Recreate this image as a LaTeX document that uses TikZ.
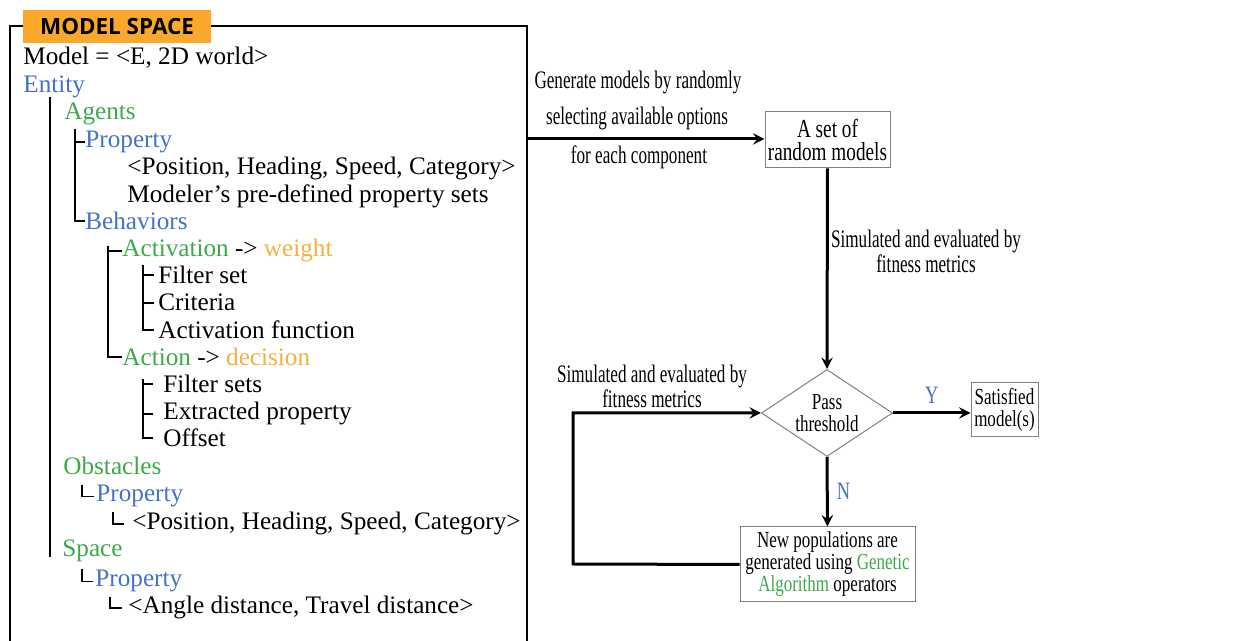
\documentclass[tikz,border=0pt]{standalone}
\usepackage{fontspec}
\usepackage{tikz}
\usepackage{xcolor}
\usetikzlibrary{shapes.geometric}
\usetikzlibrary{positioning}
\setmainfont{Liberation Serif}
\newfontfamily\condfont[FakeStretch=0.74]{Liberation Serif}
\newfontfamily\narrowfont[FakeStretch=0.68]{Liberation Serif}
\newfontfamily\headfont{Open Sans}
\definecolor{entblue}{HTML}{4472C4}
\definecolor{agtgreen}{HTML}{3DAA4A}
\definecolor{wtorange}{HTML}{F5B041}
\definecolor{headorange}{HTML}{F9A82B}
\newcommand{\treefont}{\fontsize{12.6}{15}\selectfont}
\tikzstyle{treetext} = [anchor=base west, inner sep=0pt, font=\treefont]
\tikzstyle{treeline} = [line width=1pt]
\tikzstyle{frameline} = [line width=1pt]
\tikzstyle{process} = [rectangle, draw=gray, line width=0.5pt, text centered, align=center, inner sep=1pt, font=\condfont\fontsize{11.5}{11}\selectfont]
\tikzstyle{decision} = [diamond, draw=gray, line width=0.5pt, aspect=1.5, minimum width=65.5pt, minimum height=43.5pt, inner sep=0pt, align=center, font=\condfont\fontsize{11.5}{11}\selectfont]
\tikzstyle{lbl} = [align=center, inner sep=0pt, font=\narrowfont\fontsize{12.6}{11}\selectfont]
\tikzstyle{yn} = [inner sep=1pt, text=entblue, font=\condfont\fontsize{12.5}{12}\selectfont]
\tikzstyle{arrow} = [line width=1.5pt,->,>=stealth]

\begin{document}
\begin{tikzpicture}[x=0.5pt, y=-0.5pt]
        \useasboundingbox (0,0) rectangle (1255,641);

        % model space panel
        \node (title) [fill=headorange, minimum width=94pt, minimum height=16.5pt, inner sep=0pt, font=\headfont\bfseries\fontsize{11.2}{12}\selectfont] at (117,26.5) {MODEL SPACE};
        \coordinate (fbl) at (10,641);
        \coordinate (fbr) at (527,641);
        \draw [frameline] (title.west) -| (fbl);
        \draw [frameline] (title.east) -| (fbr);

        \node (model) [treetext] at (23,65) {Model = <E, 2D world>};
        \node (entity) [treetext, text=entblue] at (23,92.5) {Entity};
        \node (agents) [treetext, text=agtgreen] at (64,120) {Agents};
        \node (aprop) [treetext, text=entblue] at (85,147.5) {Property};
        \node (apos) [treetext] at (127,175) {<Position, Heading, Speed, Category>};
        \node (amod) [treetext] at (127,202.5) {Modeler’s pre-defined property sets};
        \node (behav) [treetext, text=entblue] at (85,230) {Behaviors};
        \node (activ) [treetext] at (122,257) {\textcolor{agtgreen}{Activation} -> \textcolor{wtorange}{weight}};
        \node (filt) [treetext] at (158,284) {Filter set};
        \node (crit) [treetext] at (158,311) {Criteria};
        \node (actf) [treetext] at (158,339) {Activation function};
        \node (action) [treetext] at (122,366) {\textcolor{agtgreen}{Action} -> \textcolor{wtorange}{decision}};
        \node (filts) [treetext] at (163,393) {Filter sets};
        \node (extr) [treetext] at (163,420) {Extracted property};
        \node (offs) [treetext] at (163,447) {Offset};
        \node (obst) [treetext, text=agtgreen] at (63,475) {Obstacles};
        \node (oprop) [treetext, text=entblue] at (96,502) {Property};
        \node (opos) [treetext] at (132,530) {<Position, Heading, Speed, Category>};
        \node (space) [treetext, text=agtgreen] at (62,557) {Space};
        \node (sprop) [treetext, text=entblue] at (95,587) {Property};
        \node (sang) [treetext] at (128,614) {<Angle distance, Travel distance>};

        % tree branches
        \coordinate (entbar) at (50,97);
        \coordinate (agbar) at (75,129);
        \coordinate (bhbar) at (108,246);
        \coordinate (acbar) at (143,265);
        \coordinate (dcbar) at (143,379);
        \coordinate (obl) at (82,485);
        \coordinate (opl) at (113,512);
        \coordinate (spl) at (82,569);
        \coordinate (sal) at (110,597);
        \draw [treeline] (entbar) -- (entbar |- space.base);
        \draw [treeline] (agbar) |- (aprop.west);
        \draw [treeline] (agbar) |- (behav.west);
        \draw [treeline] (bhbar) |- (activ.west);
        \draw [treeline] (bhbar) |- (action.west);
        \draw [treeline] (acbar) |- ([xshift=-2pt]filt.west);
        \draw [treeline] (acbar) |- ([xshift=-2pt]crit.west);
        \draw [treeline] (acbar) |- ([xshift=-2pt]actf.west);
        \draw [treeline] (dcbar) |- ([xshift=-5pt]filts.west);
        \draw [treeline] (dcbar) |- ([xshift=-5pt]extr.west);
        \draw [treeline] (dcbar) |- ([xshift=-5pt]offs.west);
        \draw [line width=0.6pt] (obl) |- ([xshift=-1pt]oprop.west);
        \draw [line width=0.6pt] (opl) |- ([xshift=-4pt]opos.west);
        \draw [line width=0.6pt] (spl) |- ([xshift=-1pt]sprop.west);
        \draw [line width=0.6pt] (sal) |- ([xshift=-3pt]sang.west);

        % flow
        \node (rset) [process, minimum width=62.5pt, minimum height=28pt, font=\condfont\fontsize{13}{11.5}\selectfont] at (827.5,140) {A set of\\random models};
        \node (pass) [decision] at (827,413) {Pass\\threshold};
        \node (sat) [process, minimum width=33.5pt, minimum height=27pt] at (1004.5,410) {Satisfied\\model(s)};
        \node (newpop) [process, minimum width=87.5pt, minimum height=37.5pt] at (827.5,564.5) {New populations are\\generated using \textcolor{agtgreen}{Genetic}\\\textcolor{agtgreen}{Algorithm} operators};

        \node (gen1) [lbl] at (638,82) {Generate models by randomly};
        \node (gen2) [lbl] at (637,118) {selecting available options};
        \node (gen3) [lbl] at (639,157) {for each component};
        \node (sim1) [lbl] at (926,251) {Simulated and evaluated by\\fitness metrics};
        \node (sim2) [lbl] at (652,386) {Simulated and evaluated by\\fitness metrics};

        \coordinate (gen) at (527,139);
        \coordinate (loop) at (573,564);
        \draw [arrow] (gen) -- (gen -| rset.west);
        \draw [arrow] (rset.south) -- (pass.north);
        \draw [arrow] (pass.east) -- node[yn, above=3pt] {Y} (pass.east -| sat.west);
        \draw [arrow] (pass.south) -- node[yn, right=3pt] {N} (newpop.north);
        \draw [arrow] (newpop.west) -- (loop) |- (pass.west);
\end{tikzpicture}
\end{document}
